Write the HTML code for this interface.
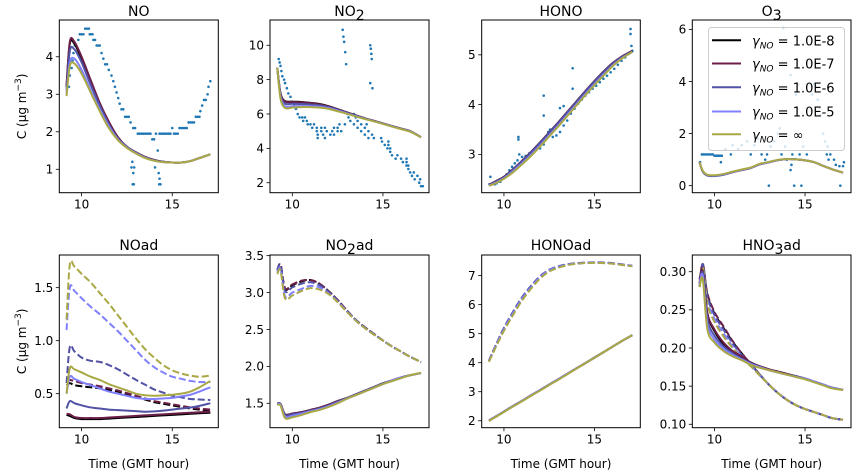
<!DOCTYPE html>
<html><head><meta charset="utf-8">
<style>
html,body{margin:0;padding:0;background:#fff;}
svg{display:block;font-family:"DejaVu Sans","Liberation Sans",sans-serif;}
</style></head>
<body>
<svg id="fig" width="853" height="471" viewBox="0 0 853 471" xmlns="http://www.w3.org/2000/svg"></svg>
<script>
// ---------- data ----------
const T = [9.17,9.35,9.6,10,10.5,11,11.5,12,12.5,13,13.5,14,14.5,15,15.5,16,16.5,17.1];
const seriesNames = ["1.0E-8","1.0E-7","1.0E-6","1.0E-5","\u221e"];
const seriesColors = ["#000000","#6b1f47","#5151a6","#8080ff","#a9a845"];

// NO
const NO_e8 = [3.2,4.35,4.35,3.95,3.35,2.75,2.25,1.85,1.6,1.45,1.33,1.25,1.2,1.18,1.18,1.22,1.3,1.4];
const NO_e7 = [3.25,4.4,4.4,4.0,3.38,2.77,2.27,1.86,1.6,1.45,1.33,1.25,1.2,1.18,1.18,1.22,1.3,1.4];
const NO_e6 = [3.1,4.15,4.2,3.85,3.25,2.7,2.2,1.82,1.6,1.44,1.32,1.24,1.2,1.18,1.18,1.22,1.3,1.4];
const NO_e5 = [3.0,3.85,3.95,3.65,3.1,2.6,2.15,1.8,1.58,1.43,1.31,1.23,1.19,1.18,1.18,1.22,1.3,1.4];
const NO_inf = [2.95,3.75,3.82,3.55,3.05,2.55,2.1,1.78,1.57,1.42,1.3,1.23,1.19,1.18,1.18,1.22,1.3,1.4];
const NO_obs = [[9.3,3.2],[9.35,3.5],[9.45,3.7],[9.5,3.9],[9.55,4.1],[9.63,4.3],[9.7,4.3],[9.82,4.45],[9.9,4.6],[10.0,4.6],[10.1,4.6],[10.2,4.75],[10.3,4.75],[10.4,4.75],[10.45,4.6],[10.5,4.6],[10.6,4.6],[10.65,4.45],[10.74,4.45],[10.83,4.3],[10.9,4.3],[11.0,4.3],[11.1,4.1],[11.2,3.95],[11.3,3.8],[11.4,3.8],[11.5,3.65],[11.65,3.5],[11.75,3.35],[11.84,3.2],[11.93,3.05],[12.02,2.9],[12.1,2.75],[12.2,2.6],[12.3,2.6],[12.4,2.4],[12.5,2.4],[12.6,2.4],[12.7,2.25],[12.85,2.1],[12.95,2.1],[13.1,1.95],[13.2,1.95],[13.3,1.95],[13.4,1.95],[13.5,1.95],[13.6,1.95],[13.7,1.95],[13.8,1.95],[13.9,1.8],[14.0,1.8],[14.1,1.95],[14.3,1.95],[14.4,1.95],[14.5,1.95],[14.6,1.95],[14.7,1.95],[14.8,1.95],[14.9,1.95],[15.0,2.1],[15.1,1.95],[15.2,1.95],[15.3,1.95],[15.4,2.1],[15.5,2.1],[15.6,2.1],[15.7,2.1],[15.8,2.1],[15.9,2.25],[16.0,2.25],[16.1,2.25],[16.2,2.25],[16.3,2.4],[16.4,2.4],[16.5,2.4],[16.55,2.55],[16.65,2.7],[16.75,2.85],[16.85,2.85],[16.95,3.0],[17.0,3.2],[17.1,3.35],[12.75,1.05],[12.8,1.2],[12.85,0.9],[12.9,1.05],[12.82,0.6],[12.88,0.6],[14.05,1.05],[14.2,1.5],[14.25,0.9],[14.3,0.75],[14.28,0.6],[14.35,0.6]];

// NO2
const NO2_e8 = [8.7,7.2,6.75,6.72,6.7,6.65,6.58,6.45,6.28,6.1,5.92,5.75,5.6,5.45,5.3,5.15,5.0,4.65];
const NO2_e7 = [8.7,7.2,6.72,6.7,6.68,6.63,6.56,6.44,6.27,6.1,5.92,5.75,5.6,5.45,5.3,5.15,5.0,4.65];
const NO2_e6 = [8.7,7.1,6.6,6.6,6.58,6.55,6.5,6.4,6.24,6.07,5.9,5.74,5.59,5.44,5.29,5.14,4.99,4.65];
const NO2_e5 = [8.7,7.0,6.45,6.45,6.46,6.45,6.42,6.34,6.2,6.04,5.88,5.72,5.58,5.43,5.28,5.13,4.98,4.65];
const NO2_inf = [8.7,6.9,6.35,6.37,6.4,6.4,6.37,6.3,6.16,6.02,5.86,5.71,5.57,5.42,5.27,5.12,4.97,4.65];
const NO2_obs = [[9.25,9.2],[9.3,9.0],[9.35,8.8],[9.4,8.5],[9.45,8.2],[9.55,8.0],[9.6,7.8],[9.7,7.5],[9.78,7.2],[9.9,7.0],[10.0,6.7],[10.1,6.5],[10.2,6.3],[10.3,6.0],[10.4,5.8],[10.55,5.8],[10.7,5.8],[10.6,5.6],[10.8,5.6],[10.85,5.4],[11.0,5.4],[11.2,5.4],[11.1,5.2],[11.35,5.2],[11.6,5.2],[11.8,5.2],[11.35,5.0],[11.6,5.0],[11.9,5.0],[12.2,5.0],[12.5,5.0],[12.7,5.0],[11.4,4.8],[11.7,4.8],[12.1,4.8],[12.3,4.8],[11.4,4.6],[11.8,4.6],[12.3,5.2],[12.5,5.2],[12.6,5.4],[12.9,5.4],[13.05,6.0],[13.4,6.0],[13.1,5.8],[13.5,5.8],[13.2,5.6],[13.6,5.6],[13.4,5.4],[13.8,5.4],[14.1,5.4],[13.6,5.2],[14.0,5.2],[13.8,5.0],[14.2,5.0],[14.0,4.8],[14.4,4.8],[14.2,4.6],[14.5,4.6],[14.9,4.6],[14.95,4.4],[15.3,4.4],[15.1,4.2],[15.3,4.2],[15.25,4.0],[15.4,4.0],[15.4,3.8],[15.5,3.6],[15.8,3.6],[15.7,3.4],[16.0,3.4],[16.3,3.4],[16.1,3.2],[16.3,3.2],[16.3,3.0],[16.4,3.0],[16.4,2.8],[16.5,2.6],[16.7,2.6],[16.6,2.4],[16.9,2.4],[16.75,2.2],[17.05,2.2],[17.0,2.0],[17.1,1.8],[17.2,1.8],[12.78,10.9],[12.82,10.5],[12.86,10.2],[12.92,9.6],[12.97,8.9],[14.3,10.0],[14.33,9.8],[14.36,9.5],[14.38,9.2],[14.3,7.8],[14.42,7.5]];

// HONO
const HONO_e8 = [2.39,2.42,2.47,2.55,2.7,2.87,3.05,3.24,3.44,3.64,3.85,4.06,4.27,4.47,4.66,4.83,4.96,5.08];
const HONO_e7 = HONO_e8.slice();
const HONO_e6 = [2.38,2.41,2.46,2.54,2.69,2.86,3.04,3.23,3.43,3.63,3.84,4.05,4.26,4.46,4.65,4.82,4.95,5.07];
const HONO_e5 = [2.38,2.4,2.44,2.52,2.66,2.82,2.99,3.18,3.38,3.58,3.79,4.0,4.21,4.41,4.6,4.78,4.93,5.06];
const HONO_inf = [2.37,2.39,2.43,2.51,2.64,2.8,2.97,3.16,3.36,3.56,3.77,3.98,4.19,4.39,4.58,4.77,4.92,5.06];
const HONO_obs = [[9.25,2.55],[9.2,2.4],[9.35,2.4],[9.5,2.4],[9.6,2.42],[9.8,2.45],[10.0,2.52],[10.15,2.6],[10.3,2.68],[10.45,2.75],[10.6,2.82],[10.75,2.88],[10.85,3.0],[11.0,2.95],[11.2,2.97],[11.4,3.02],[11.6,3.07],[11.8,3.1],[12.0,3.12],[12.2,3.2],[12.35,3.32],[12.45,3.45],[12.55,3.5],[12.7,3.35],[12.9,3.38],[13.1,3.45],[13.3,3.58],[13.5,3.68],[13.7,3.82],[13.9,3.92],[14.1,4.02],[14.3,4.1],[14.5,4.18],[14.7,4.25],[14.9,4.32],[15.1,4.38],[15.3,4.45],[15.5,4.52],[15.7,4.58],[15.9,4.65],[16.1,4.72],[16.3,4.8],[16.5,4.88],[16.7,4.95],[16.9,5.02],[17.1,5.08],[10.8,3.35],[10.8,3.3],[12.2,4.18],[12.2,3.78],[13.8,4.73],[13.8,4.32],[13.1,3.93],[13.3,3.97],[17.0,5.52],[17.0,5.42],[17.05,5.18]];

// O3
const O3_e8 = [0.9,0.55,0.4,0.38,0.43,0.52,0.6,0.68,0.82,0.9,0.98,1.02,1.01,0.97,0.9,0.76,0.63,0.5];
const O3_e7 = O3_e8.slice();
const O3_e6 = [0.9,0.54,0.39,0.37,0.42,0.52,0.6,0.68,0.82,0.9,0.98,1.02,1.01,0.97,0.9,0.76,0.63,0.5];
const O3_e5 = [0.9,0.56,0.41,0.39,0.44,0.53,0.61,0.69,0.83,0.9,0.98,1.02,1.01,0.97,0.9,0.76,0.63,0.5];
const O3_inf = [0.9,0.57,0.42,0.4,0.45,0.54,0.62,0.7,0.84,0.91,0.99,1.02,1.01,0.97,0.9,0.76,0.63,0.5];
const O3_obs = [[9.2,0.9],[9.3,1.2],[9.4,1.2],[9.5,1.2],[9.6,1.2],[9.7,1.2],[9.8,1.2],[9.9,1.2],[10.0,1.15],[10.1,1.15],[10.2,1.15],[10.3,1.15],[10.4,1.15],[10.35,0.9],[10.6,1.4],[10.9,1.2],[11.0,1.55],[11.3,1.4],[11.5,1.55],[11.8,1.7],[12.0,1.2],[12.2,1.55],[12.4,1.8],[12.6,1.2],[12.8,1.0],[12.9,1.2],[13.0,0.0],[13.1,1.5],[13.3,1.7],[13.5,2.0],[13.6,2.2],[13.7,1.2],[13.8,6.05],[13.9,1.5],[14.0,1.0],[14.2,4.25],[14.2,0.6],[14.25,0.8],[14.3,1.2],[14.4,0.0],[14.5,3.5],[14.6,3.9],[14.7,1.2],[14.8,0.0],[14.9,1.5],[15.1,1.2],[15.4,3.5],[15.5,3.9],[15.7,3.3],[15.8,3.0],[15.85,2.7],[16.0,2.0],[16.1,1.7],[16.2,1.2],[16.25,1.5],[16.3,1.0],[16.4,1.2],[16.6,1.0],[16.7,0.8],[16.9,0.75],[16.95,0.0],[17.1,0.75],[17.15,0.9]];

// NOad (solid = "s", dashed = "d")
const NOad_e8_s = [0.3,0.29,0.27,0.26,0.26,0.26,0.265,0.27,0.275,0.28,0.285,0.29,0.295,0.3,0.305,0.31,0.315,0.32];
const NOad_e7_s = [0.31,0.305,0.28,0.27,0.27,0.27,0.275,0.28,0.285,0.29,0.295,0.3,0.305,0.31,0.315,0.32,0.325,0.33];
const NOad_e6_s = [0.36,0.43,0.41,0.39,0.37,0.36,0.35,0.345,0.34,0.335,0.33,0.333,0.34,0.35,0.36,0.37,0.385,0.41];
const NOad_e5_s = [0.5,0.66,0.64,0.61,0.58,0.55,0.52,0.5,0.48,0.46,0.45,0.45,0.455,0.46,0.475,0.49,0.52,0.56];
const NOad_inf_s = [0.5,0.74,0.73,0.7,0.66,0.63,0.59,0.56,0.53,0.5,0.485,0.48,0.485,0.49,0.5,0.52,0.56,0.62];
const NOad_e8_d = [0.58,0.6,0.58,0.57,0.56,0.55,0.535,0.52,0.495,0.47,0.445,0.42,0.405,0.39,0.375,0.36,0.35,0.34];
const NOad_e7_d = [0.64,0.63,0.62,0.6,0.585,0.57,0.55,0.53,0.505,0.48,0.455,0.43,0.415,0.4,0.385,0.37,0.36,0.35];
const NOad_e6_d = [0.6,0.94,0.9,0.84,0.81,0.8,0.77,0.73,0.68,0.63,0.585,0.54,0.51,0.48,0.465,0.45,0.445,0.44];
const NOad_e5_d = [1.1,1.5,1.47,1.4,1.32,1.25,1.17,1.09,1.0,0.91,0.82,0.75,0.7,0.66,0.64,0.62,0.61,0.61];
const NOad_inf_d = [1.2,1.72,1.7,1.63,1.55,1.45,1.35,1.24,1.13,1.02,0.92,0.84,0.77,0.72,0.69,0.67,0.66,0.67];

// NO2ad
const NO2ad_e8_s = [1.5,1.49,1.35,1.36,1.38,1.41,1.44,1.48,1.53,1.57,1.62,1.67,1.72,1.77,1.81,1.85,1.88,1.91];
const NO2ad_e7_s = NO2ad_e8_s.slice();
const NO2ad_e6_s = [1.5,1.49,1.34,1.35,1.37,1.4,1.43,1.47,1.52,1.57,1.62,1.67,1.72,1.77,1.81,1.85,1.88,1.91];
const NO2ad_e5_s = [1.49,1.48,1.32,1.33,1.36,1.39,1.42,1.46,1.51,1.56,1.61,1.66,1.71,1.76,1.81,1.85,1.88,1.91];
const NO2ad_inf_s = [1.48,1.47,1.3,1.31,1.34,1.38,1.41,1.45,1.5,1.56,1.61,1.66,1.71,1.76,1.8,1.84,1.88,1.91];
const NO2ad_e8_d = [3.3,3.38,3.05,3.1,3.15,3.17,3.12,3.02,2.9,2.76,2.63,2.53,2.44,2.35,2.27,2.2,2.13,2.06];
const NO2ad_e7_d = [3.3,3.38,3.06,3.11,3.16,3.17,3.12,3.02,2.9,2.76,2.63,2.53,2.44,2.35,2.27,2.2,2.13,2.06];
const NO2ad_e6_d = [3.3,3.37,3.02,3.07,3.12,3.14,3.1,3.01,2.89,2.75,2.63,2.53,2.44,2.35,2.27,2.2,2.13,2.06];
const NO2ad_e5_d = [3.27,3.32,2.95,3.0,3.05,3.09,3.07,2.99,2.88,2.75,2.62,2.52,2.43,2.35,2.27,2.2,2.13,2.06];
const NO2ad_inf_d = [3.25,3.3,2.92,2.96,3.02,3.06,3.04,2.98,2.87,2.74,2.62,2.52,2.43,2.35,2.27,2.2,2.13,2.06];

// HONOad
const HONOad_e8_s = [2.0,2.07,2.16,2.31,2.5,2.68,2.87,3.05,3.24,3.42,3.61,3.8,3.98,4.17,4.36,4.55,4.74,4.95];
const HONOad_e7_s = HONOad_e8_s.slice();
const HONOad_e6_s = [2.01,2.08,2.17,2.32,2.51,2.69,2.88,3.06,3.25,3.43,3.62,3.8,3.99,4.18,4.36,4.55,4.74,4.95];
const HONOad_e5_s = HONOad_e8_s.slice();
const HONOad_inf_s = [1.99,2.06,2.15,2.3,2.49,2.67,2.86,3.04,3.23,3.41,3.6,3.79,3.98,4.17,4.36,4.55,4.74,4.95];
const HONOad_e8_d = [4.05,4.3,4.65,5.15,5.7,6.2,6.6,6.95,7.18,7.3,7.38,7.42,7.44,7.45,7.44,7.42,7.38,7.33];
const HONOad_e7_d = HONOad_e8_d.slice();
const HONOad_e6_d = [4.07,4.33,4.68,5.2,5.75,6.25,6.65,6.98,7.2,7.32,7.39,7.43,7.45,7.46,7.45,7.43,7.39,7.34];
const HONOad_e5_d = HONOad_e8_d.slice();
const HONOad_inf_d = [4.03,4.27,4.6,5.1,5.64,6.14,6.55,6.9,7.14,7.27,7.36,7.41,7.43,7.44,7.43,7.41,7.37,7.32];

// HNO3ad
const HNO3ad_e8_s = [0.29,0.3,0.245,0.222,0.205,0.195,0.188,0.181,0.176,0.172,0.169,0.166,0.163,0.16,0.156,0.152,0.148,0.145];
const HNO3ad_e7_s = [0.29,0.3,0.246,0.224,0.207,0.196,0.189,0.181,0.176,0.172,0.169,0.166,0.163,0.16,0.156,0.152,0.148,0.145];
const HNO3ad_e6_s = [0.285,0.298,0.238,0.216,0.202,0.193,0.186,0.18,0.175,0.171,0.168,0.165,0.163,0.16,0.156,0.152,0.148,0.145];
const HNO3ad_e5_s = [0.283,0.295,0.232,0.211,0.199,0.191,0.185,0.179,0.175,0.171,0.168,0.165,0.162,0.16,0.156,0.152,0.148,0.145];
const HNO3ad_inf_s = [0.28,0.29,0.225,0.207,0.196,0.189,0.184,0.178,0.174,0.171,0.168,0.165,0.162,0.159,0.155,0.151,0.147,0.145];
const HNO3ad_e8_d = [0.28,0.31,0.27,0.245,0.226,0.208,0.193,0.179,0.165,0.152,0.141,0.132,0.125,0.12,0.116,0.112,0.108,0.106];
const HNO3ad_e7_d = [0.285,0.31,0.272,0.247,0.228,0.209,0.193,0.179,0.165,0.152,0.141,0.132,0.125,0.12,0.116,0.112,0.108,0.106];
const HNO3ad_e6_d = [0.28,0.31,0.268,0.243,0.224,0.206,0.191,0.178,0.165,0.152,0.141,0.132,0.125,0.12,0.116,0.112,0.108,0.106];
const HNO3ad_e5_d = [0.28,0.305,0.262,0.238,0.219,0.202,0.189,0.177,0.164,0.152,0.141,0.132,0.125,0.12,0.116,0.112,0.108,0.106];
const HNO3ad_inf_d = [0.28,0.305,0.258,0.234,0.215,0.2,0.187,0.176,0.164,0.152,0.141,0.132,0.125,0.12,0.116,0.112,0.108,0.106];

const xTicks = [10,15];
const NO_yTicks = [1,2,3,4];
const NO2_yTicks = [2,4,6,8,10];
const HONO_yTicks = [3,4,5];
const O3_yTicks = [0,2,4,6];
const NOad_yTicks = [0.5,1.0,1.5];
const NO2ad_yTicks = [1.5,2.0,2.5,3.0,3.5];
const HONOad_yTicks = [2,3,4,5,6,7];
const HNO3ad_yTicks = [0.10,0.15,0.20,0.25,0.30];

// ---------- drawing ----------
const NS = "http://www.w3.org/2000/svg";
const svg = document.getElementById("fig");
function mk(tag, attrs, parent){
  const e = document.createElementNS(NS, tag);
  for (const k in attrs) e.setAttribute(k, attrs[k]);
  (parent||svg).appendChild(e);
  return e;
}
const colX = [[59.3,218.3],[270,429],[481.7,640.3],[692.3,851]];
const rowY = [[20,192.7],[255,427.7]];
const xDom = [8.77,17.54];

const panels = [
  {key:"no", title:"NO", sub:null, col:0,row:0, yd:[0.376,4.98], ticks:NO_yTicks, dec:0, solid:[NO_e8,NO_e7,NO_e6,NO_e5,NO_inf], obs:NO_obs},
  {key:"no2", title:"NO", sub:"2", post:"", col:1,row:0, yd:[1.42,11.47], ticks:NO2_yTicks, dec:0, solid:[NO2_e8,NO2_e7,NO2_e6,NO2_e5,NO2_inf], obs:NO2_obs},
  {key:"hono", title:"HONO", sub:null, col:2,row:0, yd:[2.23,5.70], ticks:HONO_yTicks, dec:0, solid:[HONO_e8,HONO_e7,HONO_e6,HONO_e5,HONO_inf], obs:HONO_obs},
  {key:"o3", title:"O", sub:"3", post:"", col:3,row:0, yd:[-0.27,6.36], ticks:O3_yTicks, dec:0, solid:[O3_e8,O3_e7,O3_e6,O3_e5,O3_inf], obs:O3_obs},
  {key:"noad", title:"NOad", sub:null, col:0,row:1, yd:[0.179,1.808], ticks:NOad_yTicks, dec:1, solid:[NOad_e8_s,NOad_e7_s,NOad_e6_s,NOad_e5_s,NOad_inf_s], dashed:[NOad_e8_d,NOad_e7_d,NOad_e6_d,NOad_e5_d,NOad_inf_d]},
  {key:"no2ad", title:"NO", sub:"2", post:"ad", col:1,row:1, yd:[1.169,3.509], ticks:NO2ad_yTicks, dec:1, solid:[NO2ad_e8_s,NO2ad_e7_s,NO2ad_e6_s,NO2ad_e5_s,NO2ad_inf_s], dashed:[NO2ad_e8_d,NO2ad_e7_d,NO2ad_e6_d,NO2ad_e5_d,NO2ad_inf_d]},
  {key:"honoad", title:"HONOad", sub:null, col:2,row:1, yd:[1.76,7.71], ticks:HONOad_yTicks, dec:0, solid:[HONOad_e8_s,HONOad_e7_s,HONOad_e6_s,HONOad_e5_s,HONOad_inf_s], dashed:[HONOad_e8_d,HONOad_e7_d,HONOad_e6_d,HONOad_e5_d,HONOad_inf_d]},
  {key:"hno3ad", title:"HNO", sub:"3", post:"ad", col:3,row:1, yd:[0.0955,0.3219], ticks:HNO3ad_yTicks, dec:2, solid:[HNO3ad_e8_s,HNO3ad_e7_s,HNO3ad_e6_s,HNO3ad_e5_s,HNO3ad_inf_s], dashed:[HNO3ad_e8_d,HNO3ad_e7_d,HNO3ad_e6_d,HNO3ad_e5_d,HNO3ad_inf_d]}
];

function smoothPath(pts){
  let d = "M"+pts[0][0].toFixed(2)+","+pts[0][1].toFixed(2);
  for (let i=0;i<pts.length-1;i++){
    const p0=pts[Math.max(0,i-1)], p1=pts[i], p2=pts[i+1], p3=pts[Math.min(pts.length-1,i+2)];
    const c1x=p1[0]+(p2[0]-p0[0])/6, c1y=p1[1]+(p2[1]-p0[1])/6;
    const c2x=p2[0]-(p3[0]-p1[0])/6, c2y=p2[1]-(p3[1]-p1[1])/6;
    d += " C"+c1x.toFixed(2)+","+c1y.toFixed(2)+" "+c2x.toFixed(2)+","+c2y.toFixed(2)+" "+p2[0].toFixed(2)+","+p2[1].toFixed(2);
  }
  return d;
}

panels.forEach(p=>{
  const [x0,x1] = colX[p.col], [y0,y1] = rowY[p.row];
  const sx = v => x0 + (v-xDom[0])/(xDom[1]-xDom[0])*(x1-x0);
  const sy = v => y1 - (v-p.yd[0])/(p.yd[1]-p.yd[0])*(y1-y0);
  const g = mk("g",{});
  
  
  const cid = "clip-"+p.key;
  const cp = mk("clipPath",{id:cid}, g);
  mk("rect",{x:x0,y:y0,width:x1-x0,height:y1-y0}, cp);
  const plot = mk("g",{"clip-path":"url(#"+cid+")"}, g);
  // observations
  if (p.obs){
    const og = mk("g",{fill:"#1f77b4"}, plot);
    
    
    p.obs.forEach(o=>{
      const c = mk("circle",{cx:sx(o[0]).toFixed(2),cy:sy(o[1]).toFixed(2),r:1.3}, og);
      
      
    });
  }
  // model lines
  const drawSet = (arrs, dashed)=>{
    arrs.forEach((vals,i)=>{
      const pts = T.map((t,j)=>[sx(t), sy(vals[j])]);
      const path = mk("path",{d:smoothPath(pts), fill:"none", stroke:seriesColors[i], "stroke-width":2, "stroke-linejoin":"round"}, plot);
      if (dashed) path.setAttribute("stroke-dasharray","7,3");
      
      
    });
  };
  if (p.dashed) drawSet(p.dashed, true);
  drawSet(p.solid, false);
  // frame
  const fr = mk("rect",{x:x0,y:y0,width:x1-x0,height:y1-y0,fill:"none",stroke:"#000","stroke-width":1}, g);
  
  
  // x ticks
  xTicks.forEach(v=>{
    const x = sx(v);
    mk("line",{x1:x,x2:x,y1:y1,y2:y1+3.5,stroke:"#000","stroke-width":0.8}, g);
    const t = mk("text",{x:x,y:y1+16,"font-size":12,"text-anchor":"middle",fill:"#000"}, g);
    t.textContent = v;
    
    
  });
  // y ticks
  p.ticks.forEach(v=>{
    const y = sy(v);
    mk("line",{x1:x0-3.5,x2:x0,y1:y,y2:y,stroke:"#000","stroke-width":0.8}, g);
    const t = mk("text",{x:x0-6,y:y+4.3,"font-size":12,"text-anchor":"end",fill:"#000"}, g);
    t.textContent = v.toFixed(p.dec);
    
    
  });
  // title
  const tt = mk("text",{x:(x0+x1)/2,y:p.row===0?16:250,"font-size":14,"text-anchor":"middle",fill:"#000"}, g);
  
  
  tt.appendChild(document.createTextNode(p.title));
  if (p.sub){
    const s = mk("tspan",{dy:4,"font-size":14}, tt); s.textContent = p.sub;
    if (p.post){ const s2 = mk("tspan",{dy:-4}, tt); s2.textContent = p.post; }
  }
  // xlabel (bottom row)
  if (p.row===1){
    const xl = mk("text",{x:(x0+x1)/2,y:468,"font-size":12,"text-anchor":"middle",fill:"#000"}, g);
    xl.textContent = "Time (GMT hour)";
    
    
  }
  if (p.col===0){
    const cy = (y0+y1)/2;
    const yl = mk("text",{x:0,y:0,"font-size":12,"text-anchor":"middle",fill:"#000",transform:"translate(26,"+cy+") rotate(-90)"}, g);
    
    
    yl.appendChild(document.createTextNode("C (\u03bcg m"));
    const sp = mk("tspan",{dy:-5,"font-size":9}, yl); sp.textContent = "\u22123";
    const sp2 = mk("tspan",{dy:5}, yl); sp2.textContent = ")";
  }
});

// legend
const lg = mk("g",{});


mk("rect",{x:708.5,y:27.5,width:136,height:123,rx:3,fill:"#fff","fill-opacity":0.8,stroke:"#cccccc","stroke-width":1}, lg);
const legY = [40.3,63.5,87.3,111.5,134.3];
seriesNames.forEach((n,i)=>{
  const y = legY[i];
  const ln = mk("line",{x1:712,x2:741,y1:y,y2:y,stroke:seriesColors[i],"stroke-width":2}, lg);
  
  
  const t = mk("text",{x:752,y:y+5,"font-size":13,fill:"#000"}, lg);
  
  
  const g1 = mk("tspan",{"font-style":"italic"}, t); g1.textContent = "\u03b3";
  const g2 = mk("tspan",{"font-style":"italic","font-size":9,dy:3}, t); g2.textContent = "NO";
  const g3 = mk("tspan",{dy:-3}, t); g3.textContent = " = " + n;
});
</script>
</body></html>
